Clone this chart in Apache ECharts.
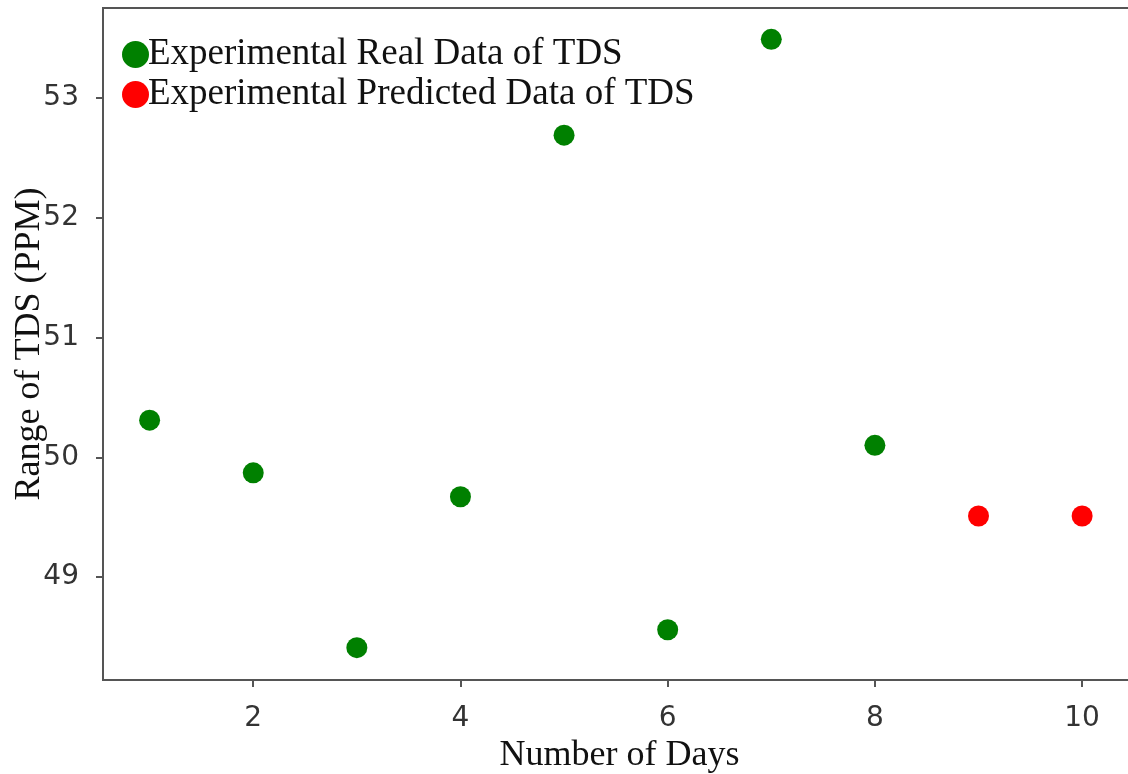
<!DOCTYPE html>
<html>
<head>
<meta charset="utf-8">
<script src="https://cdn.jsdelivr.net/npm/echarts@6/dist/echarts.min.js"></script>
<style>html,body{margin:0;padding:0;background:#fff;}#c{width:1128px;height:774px;}</style>
</head>
<body>
<div id="c"></div>
<script>
var realDays = [1, 2, 3, 4, 5, 6, 7, 8];
var realTDS = [50.31, 49.87, 48.41, 49.67, 52.69, 48.56, 53.49, 50.10];
var predDays = [9, 10];
var predTDS = [49.51, 49.51];
var xTicks = [2, 4, 6, 8, 10];
var yTicks = [49, 50, 51, 52, 53];

function pairs(xs, ys) { return xs.map(function (x, i) { return [x, ys[i]]; }); }

var chart = echarts.init(document.getElementById('c'), null, { renderer: 'canvas' });
var axisColor = '#555';
chart.setOption({
  animation: false,
  backgroundColor: '#fff',
  grid: { left: 103, top: 8, right: -8, bottom: 94, show: true, borderColor: axisColor, borderWidth: 2, outerBoundsMode: 'none', containLabel: false },
  legend: {
    orient: 'vertical', left: 117, top: 31,
    itemWidth: 27, itemHeight: 27, itemGap: 3,
    icon: 'circle',
    textStyle: { fontFamily: 'Liberation Serif', fontSize: 37, color: '#111', padding: [0, 0, 0, -6] },
    data: ['Experimental Real Data of TDS', 'Experimental Predicted Data of TDS']
  },
  xAxis: {
    type: 'value', min: 0.55, max: 10.52,
    name: 'Number of Days', nameLocation: 'middle', nameGap: 58, nameMoveOverlap: false,
    nameTextStyle: { fontFamily: 'Liberation Serif', fontSize: 36, color: '#111' },
    axisLine: { show: true, lineStyle: { color: axisColor, width: 2 } },
    axisTick: { show: true, customValues: xTicks, length: 7, lineStyle: { color: axisColor, width: 2 } },
    axisLabel: { customValues: xTicks, fontFamily: 'DejaVu Sans', fontSize: 28, color: '#333', margin: 25 },
    splitLine: { show: false }
  },
  yAxis: {
    type: 'value', min: 48.14, max: 53.752,
    name: 'Range of TDS (PPM)', nameLocation: 'middle', nameGap: 55, nameRotate: 90, nameMoveOverlap: false,
    nameTextStyle: { fontFamily: 'Liberation Serif', fontSize: 36, color: '#111' },
    axisLine: { show: true, lineStyle: { color: axisColor, width: 2 } },
    axisTick: { show: true, customValues: yTicks, length: 7, lineStyle: { color: axisColor, width: 2 } },
    axisLabel: { customValues: yTicks, fontFamily: 'DejaVu Sans', fontSize: 28, color: '#333', margin: 24 },
    splitLine: { show: false }
  },
  series: [
    { name: 'Experimental Real Data of TDS', type: 'scatter', symbolSize: 21, itemStyle: { color: '#008000', opacity: 1 }, data: pairs(realDays, realTDS) },
    { name: 'Experimental Predicted Data of TDS', type: 'scatter', symbolSize: 21, itemStyle: { color: '#ff0000', opacity: 1 }, data: pairs(predDays, predTDS) }
  ]
});
</script>
</body>
</html>
